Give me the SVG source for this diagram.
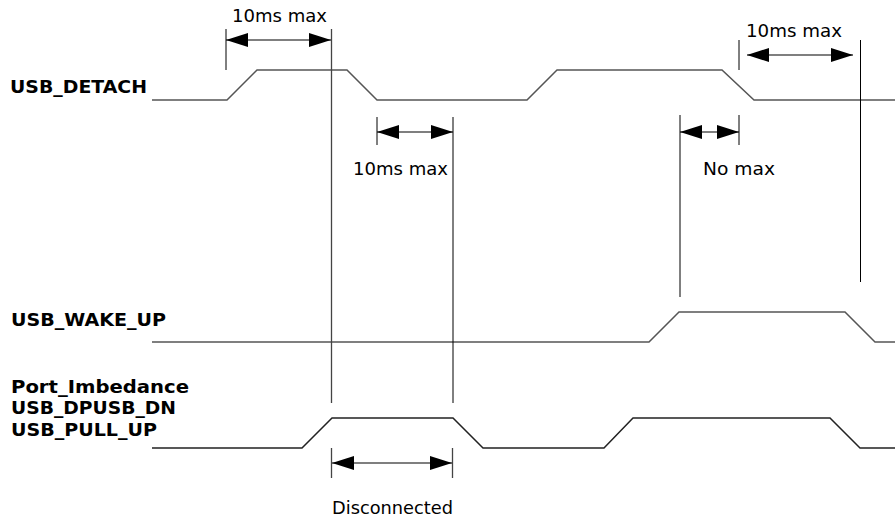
<svg xmlns="http://www.w3.org/2000/svg" width="895" height="519" viewBox="0 0 895 519">
<style>
.lbl{font-family:"DejaVu Sans","Liberation Sans",sans-serif;font-weight:bold;font-size:17px;fill:#000}
.txt{font-family:"DejaVu Sans","Liberation Sans",sans-serif;font-size:17px;fill:#000}
.wave{fill:none;stroke:#555;stroke-width:1.5}
.wave2{fill:none;stroke:#222;stroke-width:1.5}
.vl{stroke:#000;stroke-width:1;fill:none}
.vg{stroke:#444;stroke-width:1.3;fill:none}
.dim{stroke:#000;stroke-width:1.2;fill:none}
</style>
<defs>
<marker id="ah" viewBox="0 0 22 14" refX="22" refY="7" markerWidth="22" markerHeight="14" markerUnits="userSpaceOnUse" orient="auto-start-reverse">
<path d="M0,0 L22,7 L0,14 Z" fill="#000"/>
</marker>
</defs>
<g id="labels">
<text class="lbl" x="10" y="93" textLength="137" lengthAdjust="spacingAndGlyphs">USB_DETACH</text>
<text class="lbl" x="11" y="326" textLength="155" lengthAdjust="spacingAndGlyphs">USB_WAKE_UP</text>
<text class="lbl" x="11" y="393" textLength="178" lengthAdjust="spacingAndGlyphs">Port_Imbedance</text>
<text class="lbl" x="11" y="414" textLength="165" lengthAdjust="spacingAndGlyphs">USB_DPUSB_DN</text>
<text class="lbl" x="11" y="436" textLength="146" lengthAdjust="spacingAndGlyphs">USB_PULL_UP</text>
</g>
<g id="waveforms">
<polyline id="usb_detach" class="wave" points="152,100 227,100 257,70 347,70 377,100 527,100 557,70 722,70 754,100 895,100"/>
<polyline id="usb_wake_up" class="wave" points="152,342 649,342 679,312 845,312 875,342 895,342"/>
<polyline id="port" class="wave2" points="152,448 302,448 332,418 453,418 483,448 604,448 633,418 830,418 860,448 895,448"/>
</g>
<g id="connectors">
<line class="vl" x1="226" y1="29" x2="226" y2="70"/>
<line class="vg" x1="331.5" y1="29" x2="331.5" y2="403"/>
<line class="vl" x1="377" y1="117" x2="377" y2="145"/>
<line class="vl" x1="453" y1="117" x2="453" y2="403"/>
<line class="vl" x1="680" y1="115" x2="680" y2="297"/>
<line class="vl" x1="739" y1="115" x2="739" y2="145"/>
<line class="vl" x1="739" y1="40" x2="739" y2="70"/>
<line class="vl" x1="860.5" y1="40" x2="860.5" y2="282"/>
<line class="vg" x1="331.5" y1="448" x2="331.5" y2="478"/>
<line class="vg" x1="452.5" y1="448" x2="452.5" y2="478"/>
<line class="dim" x1="226" y1="40" x2="331" y2="40" marker-start="url(#ah)" marker-end="url(#ah)"/>
<line class="dim" x1="377" y1="132" x2="453" y2="132" marker-start="url(#ah)" marker-end="url(#ah)"/>
<line class="dim" x1="680" y1="132" x2="739" y2="132" marker-start="url(#ah)" marker-end="url(#ah)"/>
<line class="dim" x1="747" y1="55" x2="853" y2="55" marker-start="url(#ah)" marker-end="url(#ah)"/>
<line class="dim" x1="332" y1="463" x2="452" y2="463" marker-start="url(#ah)" marker-end="url(#ah)"/>
</g>
<g id="annotations">
<text class="txt" x="232" y="22" textLength="95" lengthAdjust="spacingAndGlyphs">10ms max</text>
<text class="txt" x="746" y="37" textLength="96" lengthAdjust="spacingAndGlyphs">10ms max</text>
<text class="txt" x="353" y="175" textLength="95" lengthAdjust="spacingAndGlyphs">10ms max</text>
<text class="txt" x="703" y="175" textLength="72" lengthAdjust="spacingAndGlyphs">No max</text>
<text class="txt" x="332" y="514" textLength="121" lengthAdjust="spacingAndGlyphs">Disconnected</text>
</g>
</svg>
